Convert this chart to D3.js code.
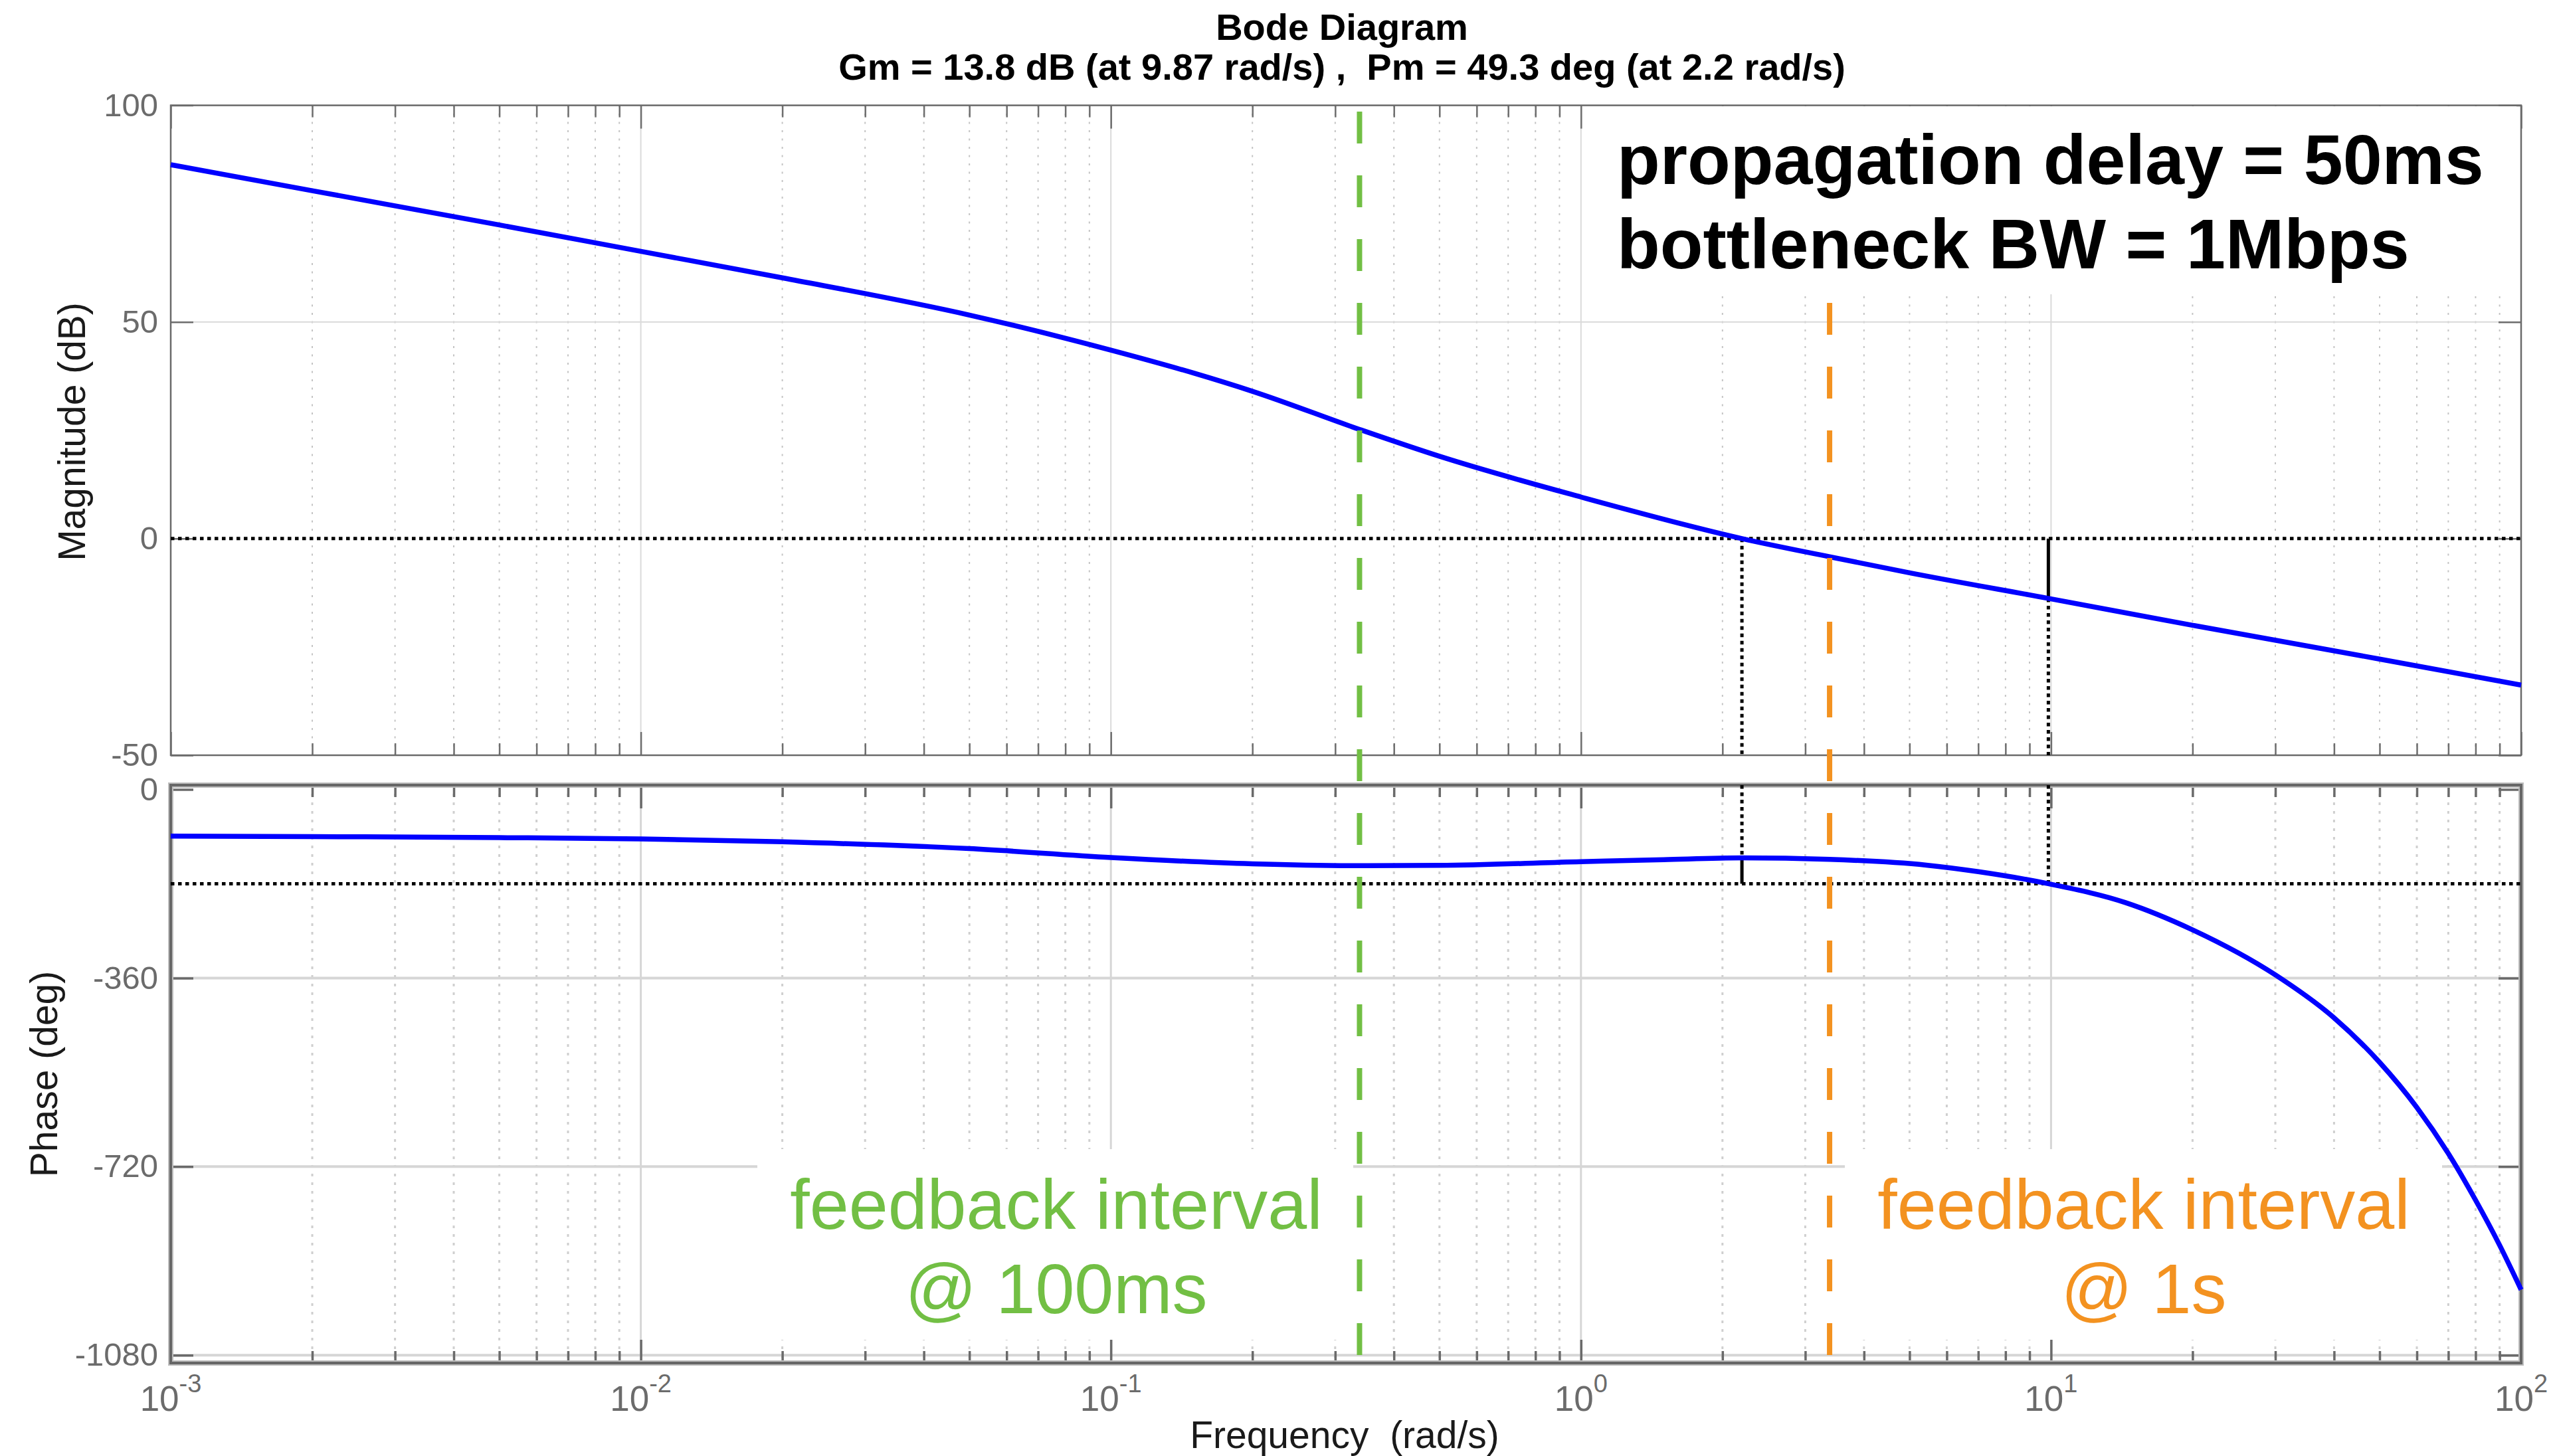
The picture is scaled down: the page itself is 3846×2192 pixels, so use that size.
<!DOCTYPE html>
<html>
<head>
<meta charset="utf-8">
<script src="https://cdn.jsdelivr.net/npm/d3@7"></script>
<style>
  html, body { margin: 0; padding: 0; background: #fff; }
  svg { display: block; }
  text { font-family: 'Liberation Sans', Arial, Helvetica, sans-serif; }
</style>
</head>
<body>
<svg id="chart" width="3846" height="2192"></svg>
<script>
// ---- Open-loop frequency response (rad/s, dB, deg) ----
const magFreq = [0.001, 0.002, 0.005, 0.01, 0.02, 0.05, 0.1, 0.15, 0.2, 0.338, 0.5, 1, 2.2, 3.38, 5, 9.87, 20, 50, 100];
const magDb   = [86.3, 80.3, 72.4, 66.3, 60.2, 51.6, 43.5, 38.2, 34.0, 25.2, 19.0, 9.6, 0, -4.2, -7.9, -13.8, -20.0, -27.8, -33.8];

const phaseFreq = [0.001, 0.002, 0.005, 0.01, 0.02, 0.05, 0.1, 0.2, 0.338, 0.5, 1, 1.5, 2.2, 3.38, 5.43, 7, 9.87, 14.4, 20, 30, 40, 50, 60, 70, 80, 90, 100];
const phaseDeg  = [-89, -90, -92, -94.5, -100, -113, -130, -142, -145.5, -145, -138, -134, -130.7, -133.5, -144.5, -157, -180, -216, -268, -354, -436, -521, -607, -695, -784, -870, -955];

// ---- Stability margins ----
const gainMargin  = { db: 13.8, freq: 9.87 };
const phaseMargin = { deg: 49.3, freq: 2.2 };

// ---- Feedback-interval markers ----
const feedbackFreq   = [0.338, 3.38];
const feedbackColor  = ["#72bf44", "#f39220"];
const feedbackLines  = [["feedback interval", "@ 100ms"], ["feedback interval", "@ 1s"]];

// ---- Tick labels ----
const magTicks   = [100, 50, 0, -50];
const phaseTicks = [0, -360, -720, -1080];
const decadeExp  = ["-3", "-2", "-1", "0", "1", "2"];

const titleLines = ["Bode Diagram", "Gm = 13.8 dB (at 9.87 rad/s) ,  Pm = 49.3 deg (at 2.2 rad/s)"];
const noteLines  = ["propagation delay = 50ms", "bottleneck BW = 1Mbps"];

// ---- Layout ----
const L = 257, R = 3795;
const magTop = 158.6, magBot = 1137;
const phTop = 1182, phBot = 2052;

const svg = d3.select("#chart");

const x = d3.scaleLog().domain([1e-3, 1e2]).range([L, R]);
const yMag = d3.scaleLinear().domain([100, -50]).range([magTop, magBot]);
const yPh = d3.scaleLinear().domain([0, -1080]).range([1188.5, 2040.2]);

const allTicks = x.ticks();
const isMajor = d => Math.abs(Math.log10(d) - Math.round(Math.log10(d))) < 1e-9;
const majors = allTicks.filter(isMajor);
const minors = allTicks.filter(d => !isMajor(d));

// ---------- grids ----------
function grid(g, top, bot, yScale, hVals, style) {
  g.selectAll("line.minor").data(minors).join("line")
    .attr("x1", d => x(d)).attr("x2", d => x(d))
    .attr("y1", top).attr("y2", bot)
    .attr("stroke", style.minorColor).attr("stroke-width", style.minorWidth)
    .attr("stroke-dasharray", style.minorDash);
  g.selectAll("line.major").data(majors.slice(1, -1)).join("line")
    .attr("x1", d => x(d)).attr("x2", d => x(d))
    .attr("y1", top).attr("y2", bot)
    .attr("stroke", style.majorColor).attr("stroke-width", style.majorWidth);
  g.selectAll("line.h").data(hVals).join("line")
    .attr("x1", L).attr("x2", R)
    .attr("y1", d => yScale(d)).attr("y2", d => yScale(d))
    .attr("stroke", style.majorColor).attr("stroke-width", style.hWidth);
}
grid(svg.append("g"), magTop, magBot, yMag, [50],
  { minorColor: "#c4c4c4", minorWidth: 2, minorDash: "3 9.5", majorColor: "#dadada", majorWidth: 2, hWidth: 2 });
grid(svg.append("g"), phTop, phBot, yPh, [-360, -720, -1080],
  { minorColor: "#cfcfcf", minorWidth: 3, minorDash: "4 9", majorColor: "#d6d6d6", majorWidth: 3, hWidth: 4 });

// ---------- axes ----------
function styleAxis(g, color, width) {
  g.select(".domain").remove();
  g.selectAll(".tick line").attr("stroke", color).attr("stroke-width", width);
  g.selectAll(".tick text")
    .attr("fill", "#6b6b6b")
    .style("font-size", "49px");
}
function frame(top, bot, yScale, yTicks, color, width) {
  const gb = svg.append("g").attr("transform", `translate(0,${bot})`);
  gb.call(d3.axisBottom(x).tickValues(majors).tickSize(-35).tickFormat(""));
  styleAxis(gb, color, width);
  const gbm = svg.append("g").attr("transform", `translate(0,${bot})`);
  gbm.call(d3.axisBottom(x).tickValues(minors).tickSize(-18).tickFormat(""));
  styleAxis(gbm, color, width);
  const gt = svg.append("g").attr("transform", `translate(0,${top})`);
  gt.call(d3.axisTop(x).tickValues(majors).tickSize(-35).tickFormat(""));
  styleAxis(gt, color, width);
  const gtm = svg.append("g").attr("transform", `translate(0,${top})`);
  gtm.call(d3.axisTop(x).tickValues(minors).tickSize(-18).tickFormat(""));
  styleAxis(gtm, color, width);
  const gl = svg.append("g").attr("transform", `translate(${L},0)`);
  gl.call(d3.axisLeft(yScale).tickValues(yTicks).tickSize(-34).tickPadding(19).tickFormat(d => String(d)));
  styleAxis(gl, color, width);
  const gr = svg.append("g").attr("transform", `translate(${R},0)`);
  gr.call(d3.axisRight(yScale).tickValues(yTicks).tickSize(-34).tickFormat(""));
  styleAxis(gr, color, width);
}
frame(magTop, magBot, yMag, magTicks, "#6e6e6e", 2.5);
frame(phTop, phBot, yPh, phaseTicks, "#6a6a6a", 3.5);

// box outlines
svg.append("rect").attr("x", L).attr("y", magTop).attr("width", R - L).attr("height", magBot - magTop)
  .attr("fill", "none").attr("stroke", "#6a6a6a").attr("stroke-width", 2.5);
svg.append("rect").attr("x", L).attr("y", phTop).attr("width", R - L).attr("height", phBot - phTop)
  .attr("fill", "none").attr("stroke", "#bdbdbd").attr("stroke-width", 8);
svg.append("rect").attr("x", L).attr("y", phTop).attr("width", R - L).attr("height", phBot - phTop)
  .attr("fill", "none").attr("stroke", "#666").attr("stroke-width", 4);

// x tick labels 10^n
const xl = svg.append("g").attr("fill", "#6b6b6b");
xl.selectAll("text").data(majors).join("text")
  .attr("x", d => x(d)).attr("y", 2124)
  .attr("text-anchor", "middle")
  .style("font-size", "53px")
  .each(function (d, i) {
    const t = d3.select(this);
    t.append("tspan").text("10");
    t.append("tspan").attr("dy", -28).style("font-size", "38px").text(decadeExp[i]);
  });

// ---------- reference lines ----------
const dotted = { width: 5, dash: "5.5 5.5" };
function vline(xv, y1, y2, dash) {
  svg.append("line").attr("x1", xv).attr("x2", xv).attr("y1", y1).attr("y2", y2)
    .attr("stroke", "#000").attr("stroke-width", dotted.width)
    .attr("stroke-dasharray", dash ? dotted.dash : null);
}
svg.append("line").attr("x1", L).attr("x2", R).attr("y1", yMag(0)).attr("y2", yMag(0))
  .attr("stroke", "#000").attr("stroke-width", dotted.width).attr("stroke-dasharray", dotted.dash);
svg.append("line").attr("x1", L).attr("x2", R).attr("y1", yPh(-180)).attr("y2", yPh(-180))
  .attr("stroke", "#000").attr("stroke-width", dotted.width).attr("stroke-dasharray", dotted.dash);

// phase margin marker
vline(x(phaseMargin.freq), yMag(0), magBot, true);
vline(x(phaseMargin.freq), phTop, yPh(-180 + phaseMargin.deg), true);
vline(x(phaseMargin.freq), yPh(-180 + phaseMargin.deg), yPh(-180), false);
// gain margin marker
vline(x(gainMargin.freq), yMag(0), yMag(-gainMargin.db), false);
vline(x(gainMargin.freq), yMag(-gainMargin.db), magBot, true);
vline(x(gainMargin.freq), phTop, yPh(-180), true);

// ---------- response curves ----------
const magLine = d3.line().x((d, i) => x(magFreq[i])).y(d => yMag(d)).curve(d3.curveMonotoneX);
const phLine = d3.line().x((d, i) => x(phaseFreq[i])).y(d => yPh(d)).curve(d3.curveMonotoneX);
svg.append("path").attr("d", magLine(magDb)).attr("fill", "none")
  .attr("stroke", "#0000ff").attr("stroke-width", 7.5).attr("stroke-linejoin", "round");
svg.append("path").attr("d", phLine(phaseDeg)).attr("fill", "none")
  .attr("stroke", "#0000ff").attr("stroke-width", 7.5).attr("stroke-linejoin", "round");

// ---------- feedback interval markers ----------
svg.selectAll("line.fb").data(feedbackFreq).join("line")
  .attr("x1", d => x(d)).attr("x2", d => x(d))
  .attr("y1", 168).attr("y2", 2040)
  .attr("stroke", (d, i) => feedbackColor[i])
  .attr("stroke-width", 8).attr("stroke-dasharray", "48 48");

// ---------- annotation panels ----------
svg.append("rect").attr("x", 2413).attr("y", 160).attr("width", 3788 - 2413).attr("height", 443 - 160).attr("fill", "#fff");
const boxes = [{ x0: 1140, x1: 2037 }, { x0: 2777, x1: 3676 }];
boxes.forEach(b => svg.append("rect").attr("x", b.x0).attr("y", 1730).attr("width", b.x1 - b.x0).attr("height", 2017 - 1730).attr("fill", "#fff"));

const noteG = svg.append("g");
noteG.selectAll("text").data(noteLines).join("text")
  .attr("x", 2434).attr("y", (d, i) => 277 + i * 126.5)
  .style("font-size", "106px").style("font-weight", "bold").attr("fill", "#000")
  .text(d => d);

const fbCenters = [1590, 3227];
feedbackLines.forEach((lines, k) => {
  svg.append("g").selectAll("text").data(lines).join("text")
    .attr("x", fbCenters[k]).attr("y", (d, i) => 1850 + i * 127)
    .attr("text-anchor", "middle")
    .style("font-size", "106px").attr("fill", feedbackColor[k])
    .text(d => d);
});

// ---------- titles ----------
svg.selectAll("text.title").data(titleLines).join("text")
  .attr("class", "title")
  .attr("x", 2020).attr("y", (d, i) => 60 + i * 60)
  .attr("text-anchor", "middle")
  .style("font-size", "56px").style("font-weight", "bold").style("white-space", "pre")
  .attr("fill", "#000")
  .text(d => d);

svg.append("text").attr("x", 2024).attr("y", 2180).attr("text-anchor", "middle")
  .style("font-size", "57px").style("white-space", "pre").attr("fill", "#1a1a1a")
  .text("Frequency  (rad/s)");
svg.append("text").attr("transform", "translate(128,650) rotate(-90)").attr("text-anchor", "middle")
  .style("font-size", "57px").attr("fill", "#1a1a1a").text("Magnitude (dB)");
svg.append("text").attr("transform", "translate(86,1617) rotate(-90)").attr("text-anchor", "middle")
  .style("font-size", "57px").attr("fill", "#1a1a1a").text("Phase (deg)");
</script>
</body>
</html>
